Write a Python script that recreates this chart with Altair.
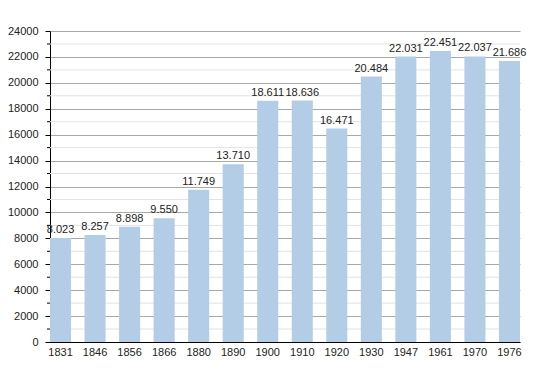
import altair as alt
import pandas as pd

years = ["1831", "1846", "1856", "1866", "1880", "1890", "1900", "1910", "1920", "1930", "1947", "1961", "1970", "1976"]
population = [8023, 8257, 8898, 9550, 11749, 13710, 18611, 18636, 16471, 20484, 22031, 22451, 22037, 21686]
labels = ["8.023", "8.257", "8.898", "9.550", "11.749", "13.710", "18.611", "18.636", "16.471", "20.484", "22.031", "22.451", "22.037", "21.686"]
major_ticks = [0, 2000, 4000, 6000, 8000, 10000, 12000, 14000, 16000, 18000, 20000, 22000, 24000]
minor_ticks = [1000, 3000, 5000, 7000, 9000, 11000, 13000, 15000, 17000, 19000, 21000, 23000]

df = pd.DataFrame({"year": years, "pop": population, "label": labels})
minor_df = pd.DataFrame({"v": minor_ticks})

FONT = "Liberation Sans"
W, H = 470, 311

yscale = alt.Scale(domain=[0, 24000], nice=False, zero=True)
xscale = alt.Scale(paddingInner=0.39, paddingOuter=0)
yaxis = alt.Axis(title=None, values=major_ticks, grid=True, gridColor="#a8a8a8",
                 domainColor="#000000", tickColor="#000000", tickSize=5,
                 labelFont=FONT, labelFontSize=11, labelColor="#222222",
                 labelPadding=7, format="d")

minor_grid = alt.Chart(minor_df).mark_rule(color="#e2e2e2", strokeWidth=1).encode(
    y=alt.Y("v:Q", scale=yscale, axis=yaxis),
    x=alt.value(0), x2=alt.value(W),
)
minor_tick = alt.Chart(minor_df).mark_rule(color="#000000", strokeWidth=1).encode(
    y=alt.Y("v:Q", scale=yscale, axis=yaxis),
    x=alt.value(-3), x2=alt.value(0),
)

bars = alt.Chart(df).mark_bar(color="#b3cde6").encode(
    x=alt.X("year:N", sort=years, scale=xscale,
            axis=alt.Axis(title=None, labelAngle=0, ticks=False, domainColor="#000000",
                          labelFont=FONT, labelFontSize=11, labelColor="#222222",
                          labelPadding=4, grid=False)),
    y=alt.Y("pop:Q", scale=yscale, axis=yaxis),
)

text = alt.Chart(df).mark_text(font=FONT, fontSize=11, color="#222222",
                               baseline="bottom", dy=-3).encode(
    x=alt.X("year:N", sort=years, scale=xscale),
    y=alt.Y("pop:Q", scale=yscale, axis=yaxis),
    text="label:N",
)

chart = alt.layer(minor_grid, bars, minor_tick, text).properties(
    width=W, height=H,
    autosize=alt.AutoSizeParams(type="none"),
    padding={"left": 42, "top": 23, "right": 22, "bottom": 22},
).configure_view(stroke=None).configure_axis(gridWidth=1)

chart.save("out.html", embed_options={"renderer": "svg", "actions": False})
